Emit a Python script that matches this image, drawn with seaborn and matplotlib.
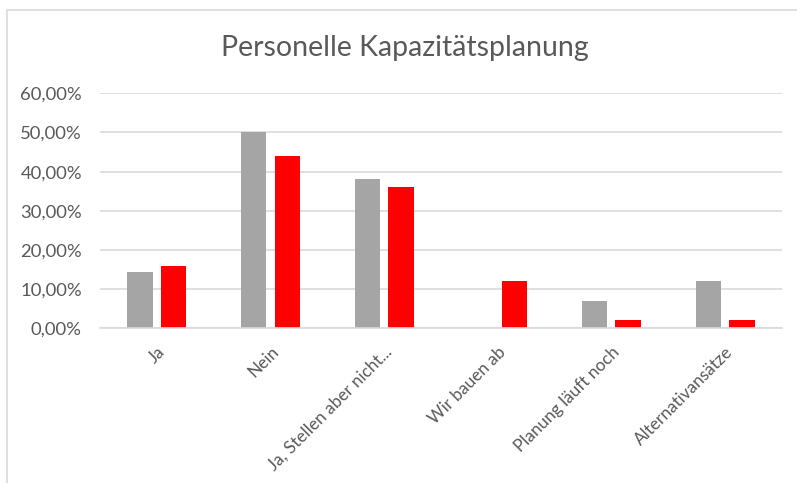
import matplotlib
matplotlib.use("Agg")
import matplotlib.pyplot as plt
import seaborn as sns
import pandas as pd
from matplotlib.ticker import FuncFormatter, MultipleLocator
from matplotlib.patches import Rectangle

categories = ["Ja", "Nein", "Ja, Stellen aber nicht...", "Wir bauen ab",
              "Planung läuft noch", "Alternativansätze"]
series_a = [0.143, 0.50, 0.38, 0.0, 0.07, 0.12]
series_b = [0.16, 0.44, 0.36, 0.12, 0.02, 0.02]
series_names = ["Reihe 1", "Reihe 2"]
colors = ["#a5a5a5", "#ff0000"]
title = "Personelle Kapazitätsplanung"

df = pd.DataFrame({
    "Kategorie": categories * 2,
    "Wert": series_a + series_b,
    "Reihe": [series_names[0]] * len(categories) + [series_names[1]] * len(categories),
})

sns.set_theme(style="white")
plt.rcParams["font.family"] = ["Lato", "DejaVu Sans"]

fig = plt.figure(figsize=(7.97, 4.83), dpi=100)
ax = fig.add_axes([0.1255, 0.3203, 0.981 - 0.1255, 0.8068 - 0.3203])

sns.barplot(data=df, x="Kategorie", y="Wert", hue="Reihe", palette=colors,
            width=0.59, gap=0.24, legend=False, ax=ax, saturation=1,
            linewidth=0, edgecolor="none")

ax.set_ylim(0, 0.6)
ax.yaxis.set_major_locator(MultipleLocator(0.1))
ax.yaxis.set_major_formatter(FuncFormatter(lambda v, p: f"{v*100:.2f}%".replace(".", ",")))
ax.grid(axis="y", color="#d9d9d9", linewidth=1.2)
ax.set_axisbelow(True)
for s in ["top", "right", "left"]:
    ax.spines[s].set_visible(False)
ax.spines["bottom"].set_color("#d9d9d9")
ax.spines["bottom"].set_linewidth(1.2)
ax.set_xlabel("")
ax.set_ylabel("")
ax.tick_params(axis="y", length=0, pad=13, labelsize=13.3, labelcolor="#595959")
ax.tick_params(axis="x", length=0, pad=11, labelsize=12.3, labelcolor="#595959")
for lbl in ax.get_xticklabels():
    lbl.set_rotation(45)
    lbl.set_ha("right")
    lbl.set_rotation_mode("anchor")

fig.text(0.508, 0.90, title, ha="center", va="center", fontsize=20.5, color="#595959")

fig.patches.append(Rectangle((7 / 797, -0.1), 1.2, 1 - 10 / 483 + 0.1,
                             transform=fig.transFigure, fill=False,
                             edgecolor="#d9d9d9", linewidth=1.2))

fig.savefig("out.png", dpi=100)
